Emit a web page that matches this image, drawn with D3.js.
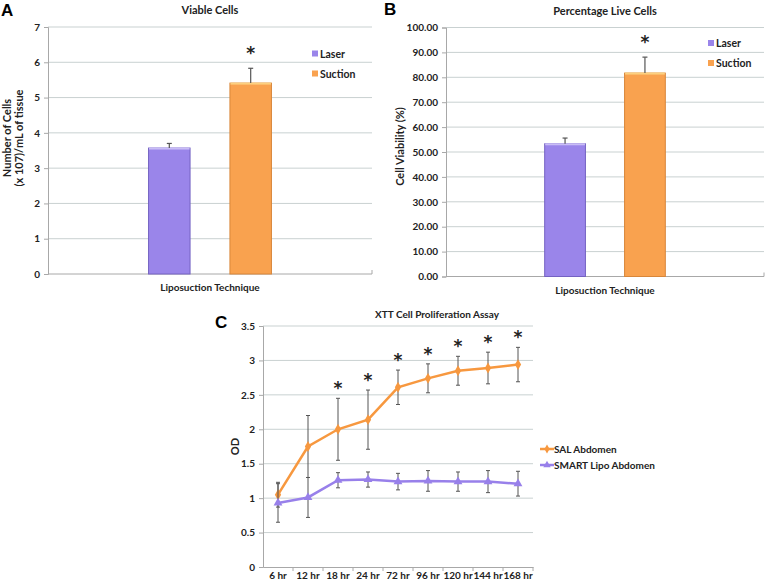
<!DOCTYPE html>
<html>
<head>
<meta charset="utf-8">
<script src="https://cdn.jsdelivr.net/npm/d3@7"></script>
<style>
  body { margin: 0; background: #fff; }
  svg text { font-family: Lato, "Open Sans", sans-serif; font-weight: 700; fill: #222; }
  svg text.letter { font-family: "Liberation Sans", Arial, sans-serif; font-weight: 700; font-size: 17px; fill: #000; }
  svg text.star { font-family: "DejaVu Sans", sans-serif; font-weight: 700; font-size: 17px; fill: #222; }
  .grid line { stroke: #c9d1d1; stroke-width: 1; }
  .axis path, .axis line { stroke: #a8a8a8; }
  .axis text { font-size: 10px; }
</style>
</head>
<body>
<svg id="fig" width="766" height="583"></svg>
<script>

// panel A / B data
var series = ["Laser", "Suction"];
var groupLabel = "Liposuction Technique";
var viableCells = [3.57, 5.41];
var viableCellsErr = [0.13, 0.42];
var viableTicks = [0, 1, 2, 3, 4, 5, 6, 7];
var liveCells = [53.3, 81.7];
var liveCellsErr = [2.3, 6.4];
var liveTicks = [0, 10, 20, 30, 40, 50, 60, 70, 80, 90, 100];

// panel C data
var timepoints = ["6 hr", "12 hr", "18 hr", "24 hr", "72 hr", "96 hr", "120 hr", "144 hr", "168 hr"];
var salAbdomen = [1.05, 1.75, 2.00, 2.14, 2.61, 2.74, 2.85, 2.89, 2.94];
var salErr = [0.18, 0.45, 0.45, 0.43, 0.25, 0.21, 0.21, 0.23, 0.25];
var smartLipo = [0.93, 1.01, 1.26, 1.27, 1.24, 1.25, 1.24, 1.24, 1.21];
var smartErr = [0.28, 0.29, 0.11, 0.11, 0.12, 0.15, 0.14, 0.16, 0.18];
var significant = [false, false, true, true, true, true, true, true, true];
var odTicks = [0, 0.5, 1, 1.5, 2, 2.5, 3, 3.5];

var colors = {Laser: "#9a85ea", Suction: "#f9a24f"};
var borders = {Laser: "#7462c2", Suction: "#d8863a"};
var tops = {Laser: "#c9bdf6", Suction: "#fcd07f"};

var svg = d3.select("#fig");

function panelLetter(txt, x, y) {
  svg.append("text")
      .attr("class", "letter")
      .attr("x", x).attr("y", y)
      .text(txt);
}

// bar chart panel (A and B)
function barPanel(opts) {
  var g = svg.append("g")
      .attr("transform", "translate(" + opts.left + "," + opts.top + ")");
  var w = opts.width, h = opts.height;

  var x0 = d3.scaleBand().domain([groupLabel]).range([0, w])
      .paddingInner(0.45).paddingOuter(0.45);
  var x1 = d3.scaleBand().domain(series).range([0, x0.bandwidth()])
      .paddingInner(0.49);
  var y = d3.scaleLinear().domain(opts.domain).range([h, 0]);

  g.append("g").attr("class", "grid")
    .selectAll("line").data(opts.ticks.slice(1)).enter().append("line")
      .attr("x1", 0).attr("x2", w)
      .attr("y1", function(d) { return y(d); })
      .attr("y2", function(d) { return y(d); });

  g.append("g").attr("class", "axis")
      .call(d3.axisLeft(y).tickValues(opts.ticks).tickSize(4).tickFormat(opts.format))
    .selectAll("text").attr("x", -8);

  g.append("g").attr("class", "axis")
      .attr("transform", "translate(0," + h + ")")
      .call(d3.axisBottom(x0).tickSize(0).tickFormat(""))
    .select(".domain").attr("d", "M0,0H" + w + "V-4");

  var bar = g.selectAll(".bar")
      .data(series.map(function(s, i) { return {s: s, v: opts.values[i], e: opts.errors[i]}; }))
    .enter().append("g")
      .attr("class", "bar")
      .attr("transform", function(d) { return "translate(" + (x0(groupLabel) + x1(d.s)) + ",0)"; });

  bar.append("rect")
      .attr("y", function(d) { return y(d.v); })
      .attr("width", x1.bandwidth())
      .attr("height", function(d) { return h - y(d.v); })
      .style("fill", function(d) { return colors[d.s]; })
      .style("stroke", function(d) { return borders[d.s]; })
      .style("stroke-width", 1);

  bar.append("rect")
      .attr("x", 0.5)
      .attr("y", function(d) { return y(d.v) - 0.5; })
      .attr("width", x1.bandwidth() - 1)
      .attr("height", 2)
      .style("fill", function(d) { return tops[d.s]; });

  var cx = x1.bandwidth() / 2;
  bar.append("line")
      .attr("x1", cx).attr("x2", cx)
      .attr("y1", function(d) { return y(d.v); })
      .attr("y2", function(d) { return y(d.v + d.e); })
      .style("stroke", "#555").style("stroke-width", 1.2);
  bar.append("line")
      .attr("x1", cx - 2.5).attr("x2", cx + 2.5)
      .attr("y1", function(d) { return y(d.v + d.e); })
      .attr("y2", function(d) { return y(d.v + d.e); })
      .style("stroke", "#555").style("stroke-width", 1.2);

  // significance star on the Suction bar
  var sx = x0(groupLabel) + x1("Suction") + cx;
  g.append("text")
      .attr("class", "star")
      .attr("x", sx)
      .attr("y", y(opts.values[1] + opts.errors[1]) - 9)
      .attr("text-anchor", "middle")
      .text("*");

  // legend
  var leg = g.selectAll(".legend").data(series).enter().append("g")
      .attr("transform", function(d, i) { return "translate(" + opts.legendX + "," + (opts.legendY + i * 20) + ")"; });
  leg.append("rect")
      .attr("x", 0).attr("y", -3.5).attr("width", 6).attr("height", 6)
      .style("fill", function(d) { return colors[d]; });
  leg.append("text")
      .attr("x", 8).attr("y", 0).attr("dy", "0.35em")
      .attr("font-size", "10.5px")
      .text(function(d) { return d; });

  g.append("text")
      .attr("x", w / 2).attr("y", -13)
      .attr("text-anchor", "middle")
      .attr("font-size", "11px")
      .text(opts.title);

  g.append("text")
      .attr("x", w / 2).attr("y", h + 17)
      .attr("text-anchor", "middle")
      .attr("font-size", "10px")
      .text(groupLabel);

  var yl = g.append("text")
      .attr("transform", "translate(" + opts.yLabelX + "," + opts.yLabelY + ") rotate(-90)")
      .attr("text-anchor", "middle")
      .attr("font-size", "11px");
  opts.yLabel.forEach(function(line, i) {
    yl.append("tspan")
        .attr("x", 0)
        .attr("dy", i === 0 ? 0 : "1.05em")
        .text(line);
  });
}

panelLetter("A", 1, 16);
barPanel({
  left: 48, top: 27, width: 324, height: 247,
  domain: [0, 7], ticks: viableTicks, format: d3.format("d"),
  values: viableCells, errors: viableCellsErr,
  title: "Viable Cells",
  yLabel: ["Number of Cells", "(x 107)/mL of tissue"], yLabelX: -37, yLabelY: 111,
  legendX: 264, legendY: 27
});

panelLetter("B", 384, 15);
barPanel({
  left: 446, top: 27.5, width: 318, height: 249,
  domain: [0, 100], ticks: liveTicks, format: d3.format(".2f"),
  values: liveCells, errors: liveCellsErr,
  title: "Percentage Live Cells",
  yLabel: ["Cell Viability (%)"], yLabelX: -42, yLabelY: 119,
  legendX: 262, legendY: 16
});

// panel C: line chart
(function() {
  var left = 263, top = 326, w = 270, h = 241;
  var g = svg.append("g").attr("transform", "translate(" + left + "," + top + ")");

  var x = d3.scaleBand().domain(timepoints).range([0, w]);
  var y = d3.scaleLinear().domain([0, 3.5]).range([h, 0]);
  var cx = function(d, i) { return x(timepoints[i]) + x.bandwidth() / 2; };

  g.append("g").attr("class", "grid")
    .selectAll("line").data(odTicks.slice(1)).enter().append("line")
      .attr("x1", 0).attr("x2", w)
      .attr("y1", function(d) { return y(d); })
      .attr("y2", function(d) { return y(d); });

  g.append("g").attr("class", "axis")
      .call(d3.axisLeft(y).tickValues(odTicks).tickSize(4).tickFormat(function(d) { return String(d); }))
    .selectAll("text").attr("x", -8);

  var xa = g.append("g").attr("class", "axis")
      .attr("transform", "translate(0," + h + ")")
      .call(d3.axisBottom(x).tickSize(0).tickPadding(5));
  xa.selectAll(".tick text").style("font-size", "10px");
  xa.selectAll(".bound").data(timepoints).enter().append("line")
      .attr("x1", function(d) { return x(d) + x.bandwidth(); })
      .attr("x2", function(d) { return x(d) + x.bandwidth(); })
      .attr("y1", 0).attr("y2", 4)
      .style("stroke", "#a8a8a8");

  var lines = [
    {name: "SAL Abdomen", values: salAbdomen, errors: salErr, color: "#f7983f", marker: d3.symbolDiamond},
    {name: "SMART Lipo Abdomen", values: smartLipo, errors: smartErr, color: "#9880ea", marker: d3.symbolTriangle}
  ];

  var line = d3.line().x(cx).y(function(d) { return y(d); });

  lines.forEach(function(s) {
    g.append("path")
        .datum(s.values)
        .attr("d", line)
        .style("fill", "none")
        .style("stroke", s.color)
        .style("stroke-width", 2.5);

    var eb = g.append("g").selectAll("g").data(s.values).enter().append("g")
        .attr("transform", function(d, i) { return "translate(" + cx(d, i) + ",0)"; });
    eb.append("line")
        .attr("y1", function(d, i) { return y(d - s.errors[i]); })
        .attr("y2", function(d, i) { return y(d + s.errors[i]); })
        .style("stroke", "#555").style("stroke-width", 1);
    eb.append("line").attr("x1", -2).attr("x2", 2)
        .attr("y1", function(d, i) { return y(d + s.errors[i]); })
        .attr("y2", function(d, i) { return y(d + s.errors[i]); })
        .style("stroke", "#555").style("stroke-width", 1);
    eb.append("line").attr("x1", -2).attr("x2", 2)
        .attr("y1", function(d, i) { return y(d - s.errors[i]); })
        .attr("y2", function(d, i) { return y(d - s.errors[i]); })
        .style("stroke", "#555").style("stroke-width", 1);

    g.append("g").selectAll("path").data(s.values).enter().append("path")
        .attr("d", d3.symbol().type(s.marker).size(34))
        .attr("transform", function(d, i) { return "translate(" + cx(d, i) + "," + y(d) + ")"; })
        .style("fill", s.color);
  });

  // stars above the SAL error bars
  g.append("g").selectAll("text")
      .data(salAbdomen.map(function(d, i) { return {v: d, e: salErr[i], i: i}; })
        .filter(function(d) { return significant[d.i]; }))
    .enter().append("text")
      .attr("class", "star")
      .attr("x", function(d) { return cx(d.v, d.i); })
      .attr("y", function(d) { return y(d.v + d.e) - 4; })
      .attr("text-anchor", "middle")
      .text("*");

  // legend
  var leg = svg.append("g").selectAll("g").data(lines).enter().append("g")
      .attr("transform", function(d, i) { return "translate(540," + (449 + i * 16) + ")"; });
  leg.append("line").attr("x1", 0).attr("x2", 14)
      .style("stroke", function(d) { return d.color; }).style("stroke-width", 2.5);
  leg.append("path")
      .attr("d", function(d) { return d3.symbol().type(d.marker).size(24)(); })
      .attr("transform", "translate(7,0)")
      .style("fill", function(d) { return d.color; });
  leg.append("text")
      .attr("x", 14).attr("dy", "0.35em")
      .attr("font-size", "10px")
      .text(function(d) { return d.name; });

  g.append("text")
      .attr("x", 174).attr("y", -8)
      .attr("text-anchor", "middle")
      .attr("font-size", "10px")
      .text("XTT Cell Proliferation Assay");

  g.append("text")
      .attr("transform", "translate(-24," + (y(1.75)) + ") rotate(-90)")
      .attr("text-anchor", "middle")
      .attr("font-size", "11px")
      .text("OD");
})();

panelLetter("C", 215, 328);
</script>
</body>
</html>
